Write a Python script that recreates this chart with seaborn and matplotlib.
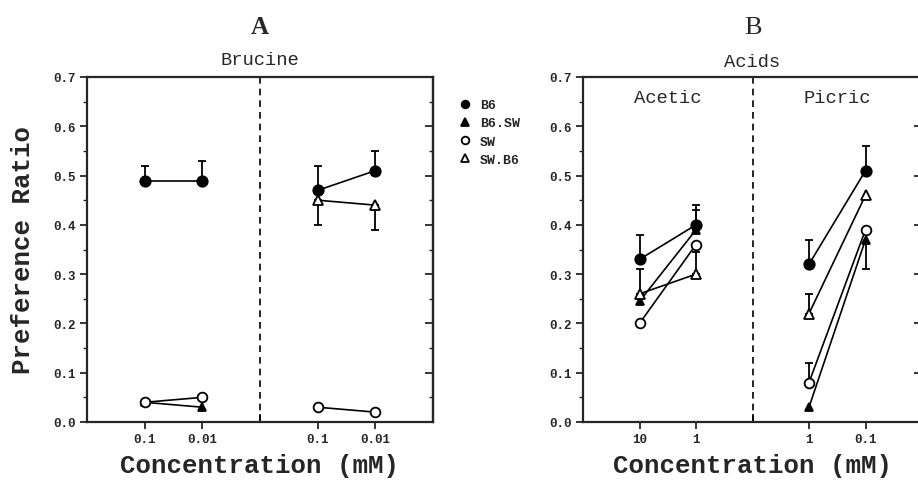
import numpy as np
import pandas as pd
import matplotlib
matplotlib.use("Agg")
import matplotlib.pyplot as plt
from matplotlib.lines import Line2D
import seaborn as sns

# concentration labels (two pairs per panel)
conc_brucine = ["0.1", "0.01", "0.1", "0.01"]
conc_acids = ["10", "1", "1", "0.1"]

strains = ["B6", "B6.SW", "SW", "SW.B6"]

# Brucine values and one-sided SEM (+ up, - down)
brucine_b6 = [0.49, 0.49, 0.47, 0.51]
brucine_b6sw = [0.04, 0.03, None, None]
brucine_sw = [0.04, 0.05, 0.03, 0.02]
brucine_swb6 = [None, None, 0.45, 0.44]
brucine_b6_err = [0.03, 0.04, 0.05, 0.04]
brucine_b6sw_err = [0, 0, 0, 0]
brucine_sw_err = [0, 0, 0, 0]
brucine_swb6_err = [0, 0, -0.05, -0.05]

# Acids (acetic 10, 1 ; picric 1, 0.1)
acids_b6 = [0.33, 0.40, 0.32, 0.51]
acids_b6sw = [0.245, 0.39, 0.03, 0.37]
acids_sw = [0.20, 0.36, 0.08, 0.39]
acids_swb6 = [0.26, 0.30, 0.22, 0.46]
acids_b6_err = [0.05, 0.04, 0.05, 0.05]
acids_b6sw_err = [0, 0.04, 0, 0]
acids_sw_err = [0, 0, 0.04, -0.08]
acids_swb6_err = [0.05, 0.045, 0.04, 0]

rows = []
panels = {
    "Brucine": ([brucine_b6, brucine_b6sw, brucine_sw, brucine_swb6],
                [brucine_b6_err, brucine_b6sw_err, brucine_sw_err, brucine_swb6_err]),
    "Acids": ([acids_b6, acids_b6sw, acids_sw, acids_swb6],
              [acids_b6_err, acids_b6sw_err, acids_sw_err, acids_swb6_err]),
}
slots = [1, 2, 4, 5]
for pan, (vals, errs) in panels.items():
    for s, v, e in zip(strains, vals, errs):
        for i in range(4):
            if v[i] is None:
                continue
            rows.append({"panel": pan, "strain": s, "x": slots[i], "seg": i // 2,
                         "value": v[i], "err": e[i]})
df = pd.DataFrame(rows)

sns.set_style("ticks")
plt.rcParams["font.family"] = ["Liberation Mono", "DejaVu Sans"]

styles = {
    "B6": dict(marker="o", mfc="black", ms=7.5),
    "B6.SW": dict(marker="^", mfc="black", ms=6),
    "SW": dict(marker="o", mfc="white", ms=7),
    "SW.B6": dict(marker="^", mfc="white", ms=7),
}

fig = plt.figure(figsize=(9.18, 4.81), dpi=100)
axA = fig.add_axes([87 / 918, 58 / 481, 346 / 918, 345 / 481])
axB = fig.add_axes([583 / 918, 58 / 481, 339 / 918, 345 / 481])

yt = np.arange(0, 0.71, 0.1)
ym = np.arange(0.05, 0.7, 0.1)

for ax, pan, labels in [(axA, "Brucine", conc_brucine), (axB, "Acids", conc_acids)]:
    sub = df[df["panel"] == pan]
    for s in strains:
        d = sub[sub["strain"] == s]
        if d.empty:
            continue
        e = d["err"].to_numpy()
        lo = np.where(e < 0, -e, 0)
        hi = np.where(e > 0, e, 0)
        m = e != 0
        if m.any():
            ax.errorbar(d["x"][m], d["value"][m], yerr=[lo[m], hi[m]], fmt="none",
                        ecolor="black", elinewidth=1.3, capsize=3, capthick=1.3, zorder=2)
        sns.lineplot(data=d, x="x", y="value", units="seg", estimator=None, ax=ax,
                     color="black", lw=1.2, mec="black", mew=1.3, zorder=3,
                     **styles[s])
    ax.axvline(3, color="black", ls=(0, (4, 3)), lw=1.2)
    ax.set_xlim(0, 6)
    ax.set_ylim(0, 0.7)
    ax.set_xticks(slots)
    ax.set_xticklabels(labels)
    ax.set_xticks([0, 3, 6], minor=True)
    ax.set_yticks(yt)
    ax.set_yticklabels([f"{t:.1f}" for t in yt])
    ax.set_yticks(ym, minor=True)
    ax.tick_params(axis="both", which="major", labelsize=9, width=1.3, length=5,
                   direction="out", pad=3)
    ax.tick_params(axis="x", which="minor", direction="in", length=6, width=1.3)
    ax.tick_params(axis="y", which="minor", direction="out", length=3, width=1)
    for lab in ax.get_xticklabels() + ax.get_yticklabels():
        lab.set_fontweight("bold")
    for sp in ax.spines.values():
        sp.set_linewidth(1.6)
    # inward ticks on the right spine
    sec = ax.secondary_yaxis("right")
    sec.set_yticks(yt)
    sec.set_yticks(ym, minor=True)
    sec.tick_params(which="major", direction="in", length=6, width=1.3, labelright=False)
    sec.tick_params(which="minor", direction="in", length=3, width=1, labelright=False)
    sec.spines["right"].set_linewidth(1.6)
    ax.set_xlabel("Concentration (mM)", fontsize=18.5, fontweight="bold", labelpad=6)
    ax.set_ylabel("")
    if ax.get_legend():
        ax.get_legend().remove()

axA.set_ylabel("Preference Ratio", fontsize=18.5, fontweight="bold")
axA.yaxis.set_label_coords(-0.15, 0.5)

axA.text(0.5, 1.145, "A", transform=axA.transAxes, ha="center", va="center",
         fontsize=18, fontweight="bold", family="Liberation Serif")
axB.text(0.5, 1.145, "B", transform=axB.transAxes, ha="center", va="center",
         fontsize=19, family="Liberation Serif")
axA.text(0.5, 1.052, "Brucine", transform=axA.transAxes, ha="center", va="center",
         fontsize=13.5)
axB.text(0.5, 1.046, "Acids", transform=axB.transAxes, ha="center", va="center",
         fontsize=13.5)
axB.text(1.5, 0.658, "Acetic", ha="center", va="center", fontsize=13.5)
axB.text(4.5, 0.658, "Picric", ha="center", va="center", fontsize=13.5)

leg_styles = {
    "B6": dict(marker="o", mfc="black", ms=5.5),
    "B6.SW": dict(marker="^", mfc="black", ms=5.5),
    "SW": dict(marker="o", mfc="white", ms=5.5),
    "SW.B6": dict(marker="^", mfc="white", ms=5.5),
}
handles = [Line2D([], [], ls="none", color="black", mec="black", mew=1.3, **leg_styles[s])
           for s in strains]
fig.legend(handles, strains, loc="upper left", bbox_to_anchor=(460 / 918, 1 - 100 / 481),
           frameon=False, handlelength=0.8, handletextpad=0.7, labelspacing=0.45,
           prop={"family": "Liberation Mono", "weight": "bold", "size": 9.5},
           borderaxespad=0, borderpad=0)

fig.savefig("out.png", dpi=100)
